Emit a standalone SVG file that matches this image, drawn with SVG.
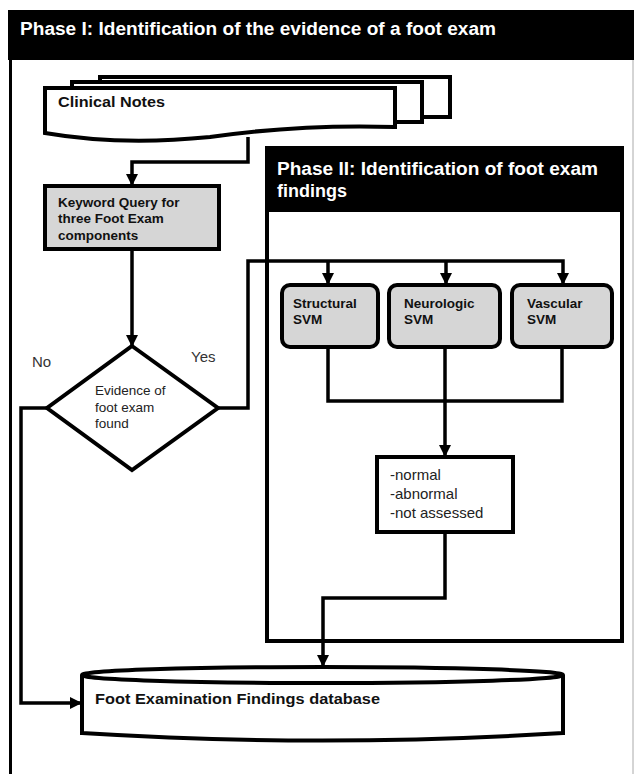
<svg xmlns="http://www.w3.org/2000/svg" width="634" height="774" viewBox="0 0 634 774">
<defs>
<marker id="arr" viewBox="0 0 12 12" refX="11" refY="6" markerWidth="12" markerHeight="12" markerUnits="userSpaceOnUse" orient="auto">
<path d="M0,0 L12,6 L0,12 Z" fill="#000"/>
</marker>
<style>
.frame{fill:none;stroke:#000;stroke-width:4}
.box{fill:#fff;stroke:#000;stroke-width:4}
.grey{fill:#d6d6d6;stroke:#000;stroke-width:4}
.conn{fill:none;stroke:#000;stroke-width:3.5;stroke-linejoin:miter}
.hdr{font-family:"Liberation Sans",Arial,sans-serif;font-weight:bold;fill:#fff;font-size:18px}
.b{font-family:"Liberation Sans",Arial,sans-serif;font-weight:bold;fill:#111;font-size:13.5px}
.b15{font-family:"Liberation Sans",Arial,sans-serif;font-weight:bold;fill:#111;font-size:15px}
.r{font-family:"Liberation Sans",Arial,sans-serif;fill:#222;font-size:13.5px}
.r15{font-family:"Liberation Sans",Arial,sans-serif;fill:#222;font-size:15px}
.lbl{font-family:"Liberation Sans",Arial,sans-serif;fill:#333;font-size:15px}
</style>
</defs>
<rect width="634" height="774" fill="#fff"/>
<g id="phase1">
<rect x="8" y="10" width="626" height="50" fill="#000"/>
<line x1="10.5" y1="60" x2="10.5" y2="774" stroke="#000" stroke-width="3"/>
<line x1="633" y1="60" x2="633" y2="774" stroke="#aaa" stroke-width="1"/>
<text class="hdr" x="20" y="35" textLength="476" lengthAdjust="spacingAndGlyphs">Phase I: Identification of the evidence of a foot exam</text>
</g>
<g id="phase2">
<rect x="267" y="148" width="355" height="493" class="frame"/>
<rect x="267" y="148" width="355" height="64" fill="#000"/>
<text class="hdr" x="277" y="175" textLength="321" lengthAdjust="spacingAndGlyphs">Phase II: Identification of foot exam</text>
<text class="hdr" x="277" y="197">findings</text>
</g>
<g id="clinical-notes">
<rect x="100" y="77" width="350" height="40" class="box"/>
<rect x="72" y="82" width="350" height="40" class="box"/>
<path d="M45,88 H395 V127 Q300,124 210,137 Q120,146 45,133 Z" class="box"/>
<text class="b15" x="58" y="107" textLength="107" lengthAdjust="spacingAndGlyphs">Clinical Notes</text>
</g>
<g id="keyword">
<rect x="45" y="186" width="174" height="63" class="grey"/>
<text class="b" x="58" y="207">Keyword Query for</text>
<text class="b" x="58" y="223">three Foot Exam</text>
<text class="b" x="58" y="240">components</text>
</g>
<g id="decision">
<path d="M132,346 L218,408 L132,470 L47,408 Z" class="box"/>
<text class="r" x="95" y="395">Evidence of</text>
<text class="r" x="95" y="412">foot exam</text>
<text class="r" x="95" y="428">found</text>
</g>
<g id="structural">
<rect x="282" y="285" width="96" height="62" rx="8" class="grey"/>
<text class="b" x="293" y="308">Structural</text>
<text class="b" x="293" y="324">SVM</text>
</g>
<g id="neurologic">
<rect x="389" y="285" width="111" height="62" rx="8" class="grey"/>
<text class="b" x="404" y="308">Neurologic</text>
<text class="b" x="404" y="324">SVM</text>
</g>
<g id="vascular">
<rect x="512" y="285" width="100" height="62" rx="8" class="grey"/>
<text class="b" x="527" y="308">Vascular</text>
<text class="b" x="527" y="324">SVM</text>
</g>
<g id="result">
<rect x="377" y="457" width="136" height="75" class="box"/>
<text class="r15" x="390" y="480">-normal</text>
<text class="r15" x="390" y="499">-abnormal</text>
<text class="r15" x="390" y="518">-not assessed</text>
</g>
<g id="database">
<path d="M82,675 V733 Q322,748 563,733 V675" class="box"/>
<ellipse cx="322.5" cy="675" rx="240.5" ry="8" class="box"/>
<text class="b15" x="95" y="704" textLength="285" lengthAdjust="spacingAndGlyphs">Foot Examination Findings database</text>
</g>
<g id="connectors">
<path class="conn" d="M248,137 V162 H132 V185" marker-end="url(#arr)"/>
<path class="conn" d="M132,249 V346" marker-end="url(#arr)"/>
<path class="conn" d="M218,408 H248 V261 H563 V284" marker-end="url(#arr)"/>
<path class="conn" d="M328,261 V284" marker-end="url(#arr)"/>
<path class="conn" d="M446,261 V284" marker-end="url(#arr)"/>
<path class="conn" d="M47,408 H21 V703 H81" marker-end="url(#arr)"/>
<path class="conn" d="M328,347 V401 H562 V347"/>
<path class="conn" d="M445,347 V456" marker-end="url(#arr)"/>
<path class="conn" d="M445,532 V598 H323 V666" marker-end="url(#arr)"/>
<text class="lbl" x="32" y="367">No</text>
<text class="lbl" x="191" y="362">Yes</text>
</g>
</svg>
